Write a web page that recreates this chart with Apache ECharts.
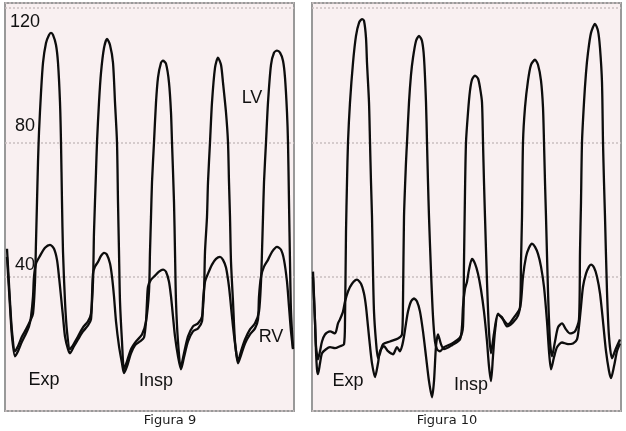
<!DOCTYPE html>
<html>
<head>
<meta charset="utf-8">
<script src="https://cdn.jsdelivr.net/npm/echarts@6/dist/echarts.min.js"></script>
<style>
  html, body { margin: 0; padding: 0; background: #ffffff; }
  #chart { width: 626px; height: 431px; }
</style>
</head>
<body>
<div id="chart"></div>
<script>
// ---- Data (time in arbitrary units, pressure in mmHg) ----
const panelCaptions = ['Figura 9', 'Figura 10'];
const yTickLabels = [40, 80, 120];
const seriesNames = ['LV', 'RV'];
const phaseLabels = ['Exp', 'Insp'];

const fig9LV = [
  [2,48.3],[5,32.6],[7,23.7],[10,17.8],[13,19.3],[17,22.2],[21,24.3],[25,26.7],[28,29.0],
  [30,38.5],[31,50.4],[32,62.2],[33,74.1],[34,83.0],[36,94.8],[38,103.7],[41,109.6],[44,112.0],
  [46,112.6],[48,112.0],[51,109.0],[53,103.7],[55,91.9],[56,80.0],[57,62.2],[58,47.4],[60,32.6],
  [62,23.7],[65,18.4],[69,20.1],[73,22.2],[78,24.9],[83,26.7],[86,29.0],[88,38.5],[89,53.3],
  [91,71.1],[92,80.0],[94,91.9],[96,100.7],[99,108.1],[102,110.8],[105,109.0],[108,103.7],
  [110,91.9],[112,80.0],[113,62.2],[114,47.4],[115,32.6],[117,20.7],[119,12.4],[122,14.8],
  [126,18.4],[131,20.7],[137,22.8],[141,26.7],[144,35.6],[145,47.4],[146,57.8],[147,68.1],
  [149,80.0],[151,91.9],[153,99.3],[156,103.7],[158,104.3],[161,103.4],[164,97.8],[166,88.9],
  [167,80.0],[169,62.2],[170,47.4],[171,32.6],[173,20.7],[176,13.3],[179,17.2],[183,22.2],
  [188,25.2],[193,26.1],[197,28.1],[199,35.6],[200,47.4],[202,57.8],[203,68.1],[205,80.0],
  [207,91.9],[210,102.2],[213,105.2],[216,103.1],[218,97.8],[221,88.9],[223,80.0],[224,68.1],
  [225,57.8],[226,44.4],[228,32.6],[230,20.7],[233,14.8],[236,17.8],[240,21.3],[245,24.3],
  [250,26.1],[254,29.6],[256,38.5],[257,47.4],[258,57.8],[259,68.1],[261,80.0],[263,91.9],
  [266,103.1],[269,106.7],[272,107.3],[275,106.7],[278,104.3],[280,99.3],[282,88.9],[283,80.0],
  [284,62.2],[285,44.4],[286,29.6],[288,18.7]
];

const fig9RV = [
  [2,45.9],[5,31.1],[7,22.2],[10,16.3],[13,17.8],[17,20.7],[21,23.1],[24,25.2],[26,28.1],
  [28,34.1],[29,40.0],[31,43.9],[35,46.2],[40,48.6],[45,49.5],[49,48.3],[52,45.0],[54,40.0],
  [56,34.1],[58,28.1],[60,22.2],[63,18.4],[65,17.2],[69,19.3],[73,21.3],[78,23.7],[83,25.5],
  [86,27.3],[87,34.1],[88,40.9],[90,43.0],[93,44.4],[96,46.2],[99,47.1],[102,46.5],[105,43.9],
  [107,40.0],[109,34.1],[111,26.7],[114,19.3],[117,14.2],[119,11.3],[122,13.3],[126,17.2],
  [130,19.6],[135,20.7],[139,21.9],[141,26.7],[142,32.6],[143,37.0],[146,39.1],[150,40.3],
  [154,41.5],[158,42.1],[161,41.5],[164,38.5],[166,34.1],[168,28.1],[170,22.2],[173,16.3],
  [176,12.4],[179,16.0],[183,20.7],[188,23.7],[193,24.6],[197,26.7],[198,32.6],[200,38.5],
  [203,40.9],[207,43.6],[211,45.3],[215,45.9],[218,45.0],[221,42.7],[224,37.0],[226,31.1],
  [228,25.2],[231,17.8],[233,14.2],[236,16.6],[240,20.1],[245,22.8],[250,24.6],[253,27.3],
  [254,34.1],[256,40.0],[259,43.0],[263,45.0],[267,47.4],[272,48.9],[276,48.0],[279,45.0],
  [282,38.5],[284,31.1],[286,23.7],[288,18.4]
];

const fig10LV = [
  [1,41.5],[3,26.7],[4,17.8],[5,12.4],[6,11.0],[8,14.2],[10,17.2],[14,18.4],[18,19.0],[23,18.7],
  [28,19.3],[32,19.9],[33,26.7],[34,53.3],[35,68.1],[36,80.0],[38,91.9],[41,103.7],[44,111.7],
  [47,115.6],[50,116.7],[52,116.2],[54,111.1],[55,103.7],[57,91.9],[58,80.0],[59,68.1],[60,57.8],
  [61,41.5],[62,29.6],[64,20.7],[66,15.7],[68,17.2],[71,19.9],[78,20.7],[86,21.6],[90,22.8],
  [91,32.6],[92,57.8],[94,74.1],[95,80.0],[97,91.9],[99,100.1],[101,105.2],[104,110.2],[107,111.7],
  [110,110.2],[112,105.2],[114,91.9],[115,80.0],[116,68.1],[117,57.8],[119,41.5],[121,28.1],
  [123,20.7],[125,18.4],[128,17.8],[132,19.0],[140,20.1],[148,21.9],[151,25.2],[152,44.4],
  [153,65.2],[154,80.0],[156,88.9],[158,95.4],[160,98.7],[163,99.9],[166,99.0],[168,96.3],
  [170,91.9],[171,80.0],[172,68.1],[173,57.8],[175,38.5],[177,23.7],[179,17.2],[182,23.1],
  [186,29.0],[191,27.3],[196,25.8],[202,27.9],[208,30.8],[209,44.4],[210,57.8],[211,80.0],
  [213,90.4],[216,98.4],[219,103.1],[223,104.6],[226,103.1],[229,98.4],[231,90.4],[232,80.0],
  [233,68.1],[234,57.8],[236,35.6],[238,20.7],[240,16.3],[243,20.7],[246,24.9],[250,26.1],
  [254,24.3],[258,23.1],[263,23.7],[267,27.3],[268,47.4],[269,62.2],[270,80.0],[272,91.9],
  [274,100.7],[276,106.7],[279,112.6],[283,115.3],[286,113.2],[288,108.1],[290,97.8],[291,80.0],
  [292,68.1],[293,57.8],[295,35.6],[297,22.2],[300,15.7],[304,18.7],[308,21.3]
];

const fig10RV = [
  [1,40.0],[3,26.7],[4,19.3],[6,15.4],[8,17.8],[10,20.7],[13,22.8],[18,23.7],[23,23.1],[26,26.1],
  [28,27.3],[31,29.6],[33,32.6],[36,35.6],[40,37.9],[45,39.1],[49,37.9],[52,35.0],[54,31.1],
  [56,25.2],[58,19.3],[60,14.2],[63,10.1],[66,14.2],[68,17.8],[72,19.3],[76,17.8],[81,16.9],
  [85,19.0],[88,17.8],[90,19.3],[92,22.2],[94,26.1],[96,29.6],[99,32.6],[102,33.5],[105,32.6],
  [108,29.6],[111,23.7],[114,16.3],[117,8.9],[120,4.1],[122,8.9],[124,19.3],[126,22.8],[129,19.9],
  [132,18.4],[140,19.6],[148,21.3],[150,25.2],[151,31.1],[153,36.4],[155,38.5],[157,42.1],
  [160,45.3],[163,43.9],[166,40.9],[169,36.1],[172,29.6],[175,20.7],[177,13.3],[179,8.9],
  [181,16.3],[183,23.7],[186,28.7],[190,27.9],[195,25.2],[201,26.4],[206,28.4],[209,32.6],
  [211,40.0],[214,45.9],[217,48.6],[220,49.8],[223,48.9],[226,46.8],[229,43.0],[232,37.0],
  [235,26.7],[237,17.8],[239,12.4],[242,16.0],[245,19.0],[250,20.4],[256,19.9],[261,20.1],
  [265,21.3],[267,25.2],[269,31.1],[271,37.0],[274,40.9],[277,43.0],[279,43.6],[282,42.7],
  [285,40.0],[288,35.0],[291,26.7],[294,17.8],[297,11.9],[299,9.8],[302,13.3],[305,17.8],[308,20.1]
];

// ---- Chart ----
const chart = echarts.init(document.getElementById('chart'), null, { renderer: 'canvas' });

const panelBg = '#f9f0f1';
const borderColor = '#999999';
const traceColor = '#0d0d0d';
const textFont = '"Liberation Sans", Arial, Helvetica, sans-serif';

function yAxisFor(gridIndex, showLabels) {
  return {
    type: 'value', gridIndex: gridIndex, min: 0, max: 121.5, interval: 40,
    axisLine: { show: false }, axisTick: { show: false },
    splitLine: { show: true, lineStyle: { color: '#c9bfc0', type: [2, 2], width: 1.5 } },
    axisLabel: {
      show: showLabels, inside: true, margin: 20, align: 'center',
      color: '#111', fontFamily: textFont, fontSize: 18,
      formatter: function (v) {
        if (yTickLabels.indexOf(v) < 0) return '';
        if (v === 120) return '{t|' + v + '}';
        if (v === 80) return '{m|' + v + '}';
        return '{b|' + v + '}';
      },
      rich: {
        t: { padding: [28, 0, 0, 0], fontSize: 18, fontFamily: textFont, color: '#111' },
        m: { padding: [0, 0, 32, 0], fontSize: 18, fontFamily: textFont, color: '#111' },
        b: { padding: [0, 0, 24, 0], fontSize: 18, fontFamily: textFont, color: '#111' }
      }
    }
  };
}

function trace(name, data, idx) {
  return {
    name: name, type: 'line', xAxisIndex: idx, yAxisIndex: idx, data: data,
    showSymbol: false, smooth: 0.25, clip: true,
    lineStyle: { color: traceColor, width: 2.3 }, silent: true, animation: false
  };
}

function label(text, x, y) {
  return {
    type: 'text', x: x, y: y, silent: true, z: 100,
    style: { text: text, fill: '#111', font: '18px ' + textFont, textAlign: 'center', textVerticalAlign: 'middle' }
  };
}
function caption(text, x, y) {
  return {
    type: 'text', x: x, y: y, silent: true,
    style: { text: text, fill: '#1a1a1a', font: '13px Verdana, "DejaVu Sans", sans-serif', textAlign: 'center', textVerticalAlign: 'middle' }
  };
}

chart.setOption({
  animation: false,
  backgroundColor: '#ffffff',
  grid: [
    { left: 5, top: 3, width: 289, height: 408, show: true, backgroundColor: panelBg, borderColor: borderColor, borderWidth: 2 },
    { left: 312, top: 3, width: 309, height: 408, show: true, backgroundColor: panelBg, borderColor: borderColor, borderWidth: 2 }
  ],
  xAxis: [
    { type: 'value', gridIndex: 0, min: 0, max: 289, show: false },
    { type: 'value', gridIndex: 1, min: 0, max: 309, show: false }
  ],
  yAxis: [yAxisFor(0, true), yAxisFor(1, false)],
  series: [
    trace(seriesNames[0], fig9LV, 0),
    trace(seriesNames[1], fig9RV, 0),
    trace(seriesNames[0], fig10LV, 1),
    trace(seriesNames[1], fig10RV, 1)
  ],
  graphic: [
    label(seriesNames[0], 252, 98),
    label(seriesNames[1], 271, 337),
    label(phaseLabels[0], 44, 380),
    label(phaseLabels[1], 156, 381),
    label(phaseLabels[0], 348, 381),
    label(phaseLabels[1], 471, 385),
    caption(panelCaptions[0], 170, 421),
    caption(panelCaptions[1], 447, 421)
  ]
});
</script>
</body>
</html>
